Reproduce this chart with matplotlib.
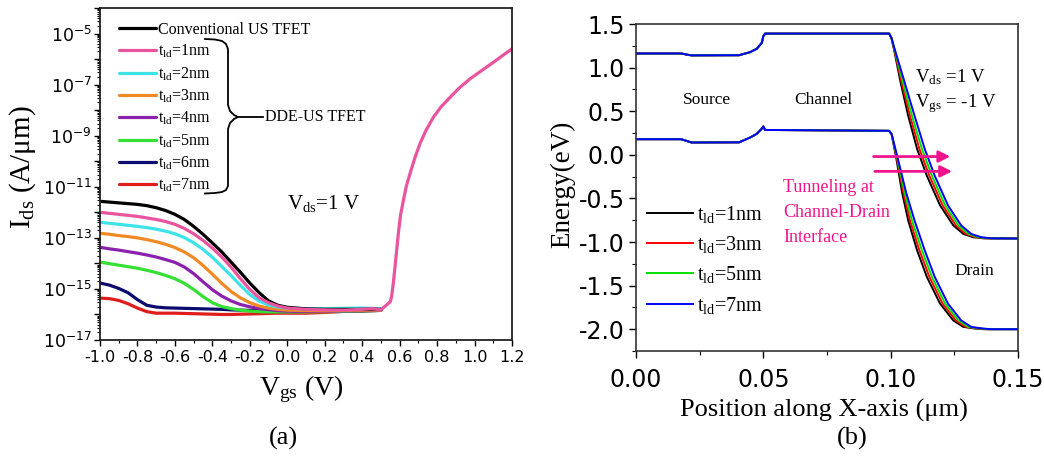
import matplotlib
matplotlib.use('Agg')
import matplotlib.pyplot as plt
import matplotlib.transforms as mtransforms
from matplotlib.lines import Line2D
from matplotlib.ticker import MultipleLocator, LogLocator, FuncFormatter, NullFormatter
import numpy as np

plt.rcParams['axes.unicode_minus'] = False
plt.rcParams['mathtext.fontset'] = 'custom'
plt.rcParams['mathtext.rm'] = 'Liberation Serif'
plt.rcParams['mathtext.it'] = 'Liberation Serif:italic'
plt.rcParams['mathtext.bf'] = 'Liberation Serif:bold'

SERIF = 'Liberation Serif'

# ---- (a) transfer characteristics, log10(Ids) ----
vgs_off = [-1.0, -0.95, -0.9, -0.85, -0.8, -0.75, -0.7, -0.65, -0.6, -0.55, -0.5,
           -0.45, -0.4, -0.35, -0.3, -0.25, -0.2, -0.15, -0.1, -0.05, 0.0,
           0.1, 0.2, 0.3, 0.4, 0.45, 0.5]

log_conv = [-11.57, -11.60, -11.63, -11.66, -11.69, -11.74, -11.82, -11.93, -12.08, -12.28, -12.55,
            -12.86, -13.20, -13.55, -13.95, -14.35, -14.77, -15.15, -15.47, -15.64, -15.72,
            -15.78, -15.80, -15.80, -15.80, -15.79, -15.80]
log_1nm = [-12.00, -12.04, -12.08, -12.12, -12.16, -12.22, -12.28, -12.36, -12.47, -12.63, -12.84,
           -13.10, -13.40, -13.75, -14.15, -14.60, -15.02, -15.35, -15.54, -15.67, -15.75,
           -15.80, -15.82, -15.83, -15.80, -15.77, -15.82]
log_2nm = [-12.39, -12.43, -12.47, -12.51, -12.55, -12.60, -12.66, -12.74, -12.84, -12.99, -13.19,
           -13.45, -13.76, -14.12, -14.48, -14.86, -15.22, -15.48, -15.63, -15.71, -15.75,
           -15.78, -15.77, -15.76, -15.75, -15.76, -15.78]
log_3nm = [-12.82, -12.86, -12.91, -12.95, -13.00, -13.07, -13.15, -13.25, -13.38, -13.55, -13.78,
           -14.08, -14.42, -14.78, -15.10, -15.35, -15.54, -15.67, -15.75, -15.80, -15.83,
           -15.85, -15.86, -15.84, -15.83, -15.83, -15.82]
log_4nm = [-13.37, -13.43, -13.48, -13.54, -13.60, -13.67, -13.75, -13.85, -13.96, -14.14, -14.40,
           -14.72, -15.03, -15.28, -15.47, -15.61, -15.70, -15.77, -15.81, -15.85, -15.87,
           -15.88, -15.88, -15.86, -15.85, -15.84, -15.83]
log_5nm = [-13.95, -14.01, -14.07, -14.13, -14.19, -14.27, -14.36, -14.47, -14.60, -14.78, -15.02,
           -15.30, -15.54, -15.69, -15.77, -15.83, -15.87, -15.89, -15.90, -15.90, -15.90,
           -15.90, -15.89, -15.88, -15.86, -15.85, -15.84]
log_6nm = [-14.77, -14.85, -14.98, -15.15, -15.42, -15.64, -15.71, -15.74, -15.75, -15.76, -15.77,
           -15.78, -15.79, -15.80, -15.82, -15.83, -15.84, -15.85, -15.86, -15.86, -15.87,
           -15.88, -15.88, -15.87, -15.86, -15.85, -15.84]
log_7nm = [-15.36, -15.38, -15.45, -15.58, -15.75, -15.89, -15.95, -15.95, -15.95, -15.96, -15.97,
           -15.98, -15.99, -16.00, -16.00, -15.99, -15.98, -15.97, -15.96, -15.95, -15.95,
           -15.95, -15.92, -15.88, -15.86, -15.85, -15.84]

# on-state branch (all devices coincide, only the t_ld=1nm curve is visible on top)
vgs_on = [0.55, 0.557, 0.566, 0.58, 0.593, 0.605, 0.62, 0.635, 0.655, 0.68, 0.708, 0.74,
          0.78, 0.82, 0.869, 0.92, 0.975, 1.04, 1.1, 1.15, 1.2]
log_on = [-15.5, -15.3, -14.79, -13.8, -12.83, -12.1, -11.53, -11.0, -10.49, -9.9, -9.32, -8.8,
          -8.28, -7.88, -7.5, -7.12, -6.78, -6.44, -6.13, -5.86, -5.6]

labels_a = ['Conventional US TFET'] + [r't$_{\rm ld}$=%dnm' % i for i in range(1, 8)]
colors_a = ['#000000', '#e8559e', '#3ee3ea', '#f08a25', '#8a22ad', '#35e035', '#0b0b6e', '#e01d1d']
series_a = [log_conv, log_1nm, log_2nm, log_3nm, log_4nm, log_5nm, log_6nm, log_7nm]

# ---- (b) band diagram along the channel ----
x_src = [0.0, 0.0177, 0.0198, 0.0218, 0.0405, 0.0448, 0.0474, 0.0494, 0.0500, 0.0507, 0.0994]
ec_src = [1.162, 1.162, 1.150, 1.140, 1.142, 1.177, 1.215, 1.284, 1.36, 1.39, 1.39]
ev_src = [0.179, 0.179, 0.160, 0.141, 0.143, 0.198, 0.240, 0.300, 0.325, 0.285, 0.275]

ec_drain = [1.34, 1.21, 0.83, 0.445, 0.065, -0.24, -0.58, -0.81, -0.907, -0.945, -0.958, -0.96]
x_ec_1nm = [0.1003, 0.1013, 0.1039, 0.1069, 0.1104, 0.1142, 0.1194, 0.1246, 0.1285, 0.1324, 0.1364, 0.15]
x_ec_3nm = [0.1003, 0.1014, 0.1043, 0.1076, 0.1113, 0.1152, 0.1204, 0.1256, 0.1295, 0.1334, 0.1374, 0.15]
x_ec_5nm = [0.1003, 0.1015, 0.1048, 0.1084, 0.1123, 0.1162, 0.1214, 0.1266, 0.1305, 0.1344, 0.1384, 0.15]
x_ec_7nm = [0.1003, 0.1016, 0.1055, 0.1094, 0.1134, 0.1173, 0.1225, 0.1277, 0.1316, 0.1355, 0.1394, 0.15]

ev_drain = [0.235, -0.055, -0.435, -0.755, -1.098, -1.40, -1.707, -1.90, -1.973, -1.99, -2.0, -2.0]
x_ev_1nm = [0.1004, 0.1023, 0.1045, 0.1069, 0.1104, 0.1142, 0.1194, 0.1246, 0.1285, 0.1324, 0.1364, 0.15]
x_ev_3nm = [0.1004, 0.1025, 0.1050, 0.1076, 0.1113, 0.1152, 0.1204, 0.1256, 0.1295, 0.1334, 0.1374, 0.15]
x_ev_5nm = [0.1004, 0.1027, 0.1055, 0.1084, 0.1123, 0.1162, 0.1214, 0.1266, 0.1305, 0.1344, 0.1384, 0.15]
x_ev_7nm = [0.1004, 0.1029, 0.1061, 0.1094, 0.1134, 0.1173, 0.1225, 0.1277, 0.1316, 0.1355, 0.1394, 0.15]

labels_b = [r't$_{\rm ld}$=1nm', r't$_{\rm ld}$=3nm', r't$_{\rm ld}$=5nm', r't$_{\rm ld}$=7nm']
colors_b = ['#000000', '#ff0000', '#00e000', '#0000ff']
x_ec_b = [x_ec_1nm, x_ec_3nm, x_ec_5nm, x_ec_7nm]
x_ev_b = [x_ev_1nm, x_ev_3nm, x_ev_5nm, x_ev_7nm]

MAGENTA = '#f0158c'

fig = plt.figure(figsize=(10.44, 4.61), dpi=100)
# pixel -> figure transform for the hand drawn bits
pix = mtransforms.Affine2D().scale(1 / 1044, -1 / 461).translate(0, 1) + fig.transFigure

ax1 = fig.add_axes([100 / 1044, 1 - 340 / 461, 412 / 1044, 332 / 461])
ax2 = fig.add_axes([636 / 1044, 1 - 351 / 461, 382 / 1044, 327 / 461])

# ---------- panel (a) ----------
handles = {}
for i in [7, 6, 5, 4, 3, 2, 0, 1]:
    if i == 1:
        v = vgs_off + vgs_on
        logi = series_a[i] + log_on
    else:
        v = vgs_off
        logi = series_a[i]
    ln, = ax1.plot(v, 10 ** np.array(logi), color=colors_a[i], lw=2.3,
                   solid_joinstyle='round', solid_capstyle='round')
    handles[i] = ln

ax1.set_yscale('log')
ax1.set_xlim(-1.0, 1.2)
ax1.set_ylim(1e-17, 1e-4)
ax1.xaxis.set_major_locator(MultipleLocator(0.2))
ax1.xaxis.set_minor_locator(MultipleLocator(0.1))
ax1.xaxis.set_major_formatter(FuncFormatter(lambda v, p: '%.1f' % v))
ax1.yaxis.set_major_locator(LogLocator(base=10, numticks=20))
ax1.yaxis.set_minor_locator(LogLocator(base=10, subs=np.arange(2, 10), numticks=20))
ax1.yaxis.set_minor_formatter(NullFormatter())


def odd_decades(v, p):
    e = int(round(np.log10(v)))
    if e % 2 == 0:
        return ''
    return r'$\mathdefault{10^{%d}}$' % e


ax1.yaxis.set_major_formatter(FuncFormatter(odd_decades))
ax1.tick_params(axis='x', which='major', direction='out', length=4, width=1, labelsize=11.5, pad=3)
ax1.tick_params(axis='y', which='major', direction='out', length=4, width=1, labelsize=12.5, pad=2)
ax1.tick_params(which='minor', direction='out', length=2.5, width=0.8)
for s in ax1.spines.values():
    s.set_linewidth(1.3)
    s.set_color('#222222')

ax1.set_xlabel(r'V$_{\rm gs}$ (V)', family=SERIF, fontsize=20)
ax1.xaxis.set_label_coords(0.488, -0.1)
ax1.set_ylabel(r'I$_{\rm ds}$ (A/μm)', family=SERIF, fontsize=21)
ax1.yaxis.set_label_coords(-0.15, 0.52)

ax1.legend([handles[i] for i in range(8)], labels_a, loc='upper left',
           bbox_to_anchor=(0.045, 0.958), frameon=False,
           prop={'family': SERIF, 'size': 11.5}, handlelength=2.35,
           handletextpad=0.15, labelspacing=0.31, borderpad=0, borderaxespad=0)

ax1.text(0.0, 2.2e-12, r'V$_{\rm ds}$=1 V', family=SERIF, fontsize=15, va='center', ha='left')

# brace grouping the DDE-US curves
bx = [205, 215, 222, 226, 228, 228, 230, 234, 238, 234, 230, 228, 228, 226, 222, 215, 205]
by = [39, 39.5, 41, 44, 49, 105, 111, 115, 117, 119, 123, 129, 186, 190, 192, 193, 193.5]
fig.add_artist(Line2D(bx, by, transform=pix, color='black', lw=1.3))
fig.add_artist(Line2D([238, 263], [117, 117], transform=pix, color='black', lw=1.3))
fig.text(265, 117, 'DDE-US TFET', transform=pix, family=SERIF, fontsize=11.5, va='center', ha='left')

# ---------- panel (b) ----------
for i in range(4):
    ax2.plot(x_src + x_ec_b[i], ec_src + ec_drain, color=colors_b[i], lw=1.4, label=labels_b[i])
    ax2.plot(x_src + x_ev_b[i], ev_src + ev_drain, color=colors_b[i], lw=1.4)

ax2.set_xlim(0, 0.15)
ax2.set_ylim(-2.25, 1.5)
ax2.xaxis.set_major_locator(MultipleLocator(0.05))
ax2.xaxis.set_minor_locator(MultipleLocator(0.025))
ax2.xaxis.set_major_formatter(FuncFormatter(lambda v, p: '%.2f' % v))
ax2.yaxis.set_major_locator(MultipleLocator(0.5))
ax2.yaxis.set_minor_locator(MultipleLocator(0.25))
ax2.yaxis.set_major_formatter(FuncFormatter(lambda v, p: '%.1f' % v))
ax2.tick_params(which='major', direction='out', length=5, width=1, labelsize=17, pad=3)
ax2.tick_params(axis='x', which='major', pad=7)
ax2.tick_params(which='minor', direction='out', length=3, width=0.8)
for s in ax2.spines.values():
    s.set_linewidth(1.2)
    s.set_color('#333333')

ax2.set_xlabel('Position along X-axis (μm)', family=SERIF, fontsize=19)
ax2.xaxis.set_label_coords(0.492, -0.148)
ax2.set_ylabel('Energy(eV)', family=SERIF, fontsize=19.5)
ax2.yaxis.set_label_coords(-0.16, 0.51)

ax2.legend(loc='upper left', bbox_to_anchor=(0.028, 0.45), frameon=False,
           prop={'family': SERIF, 'size': 14.5}, handlelength=2.3, handletextpad=0.2,
           labelspacing=0.46, borderpad=0, borderaxespad=0)

ax2.text(0.0279, 0.625, 'Source', family=SERIF, fontsize=12.5, ha='center', va='center')
ax2.text(0.0734, 0.625, 'Channel', family=SERIF, fontsize=12.5, ha='center', va='center')
ax2.text(0.1327, -1.33, 'Drain', family=SERIF, fontsize=12.5, ha='center', va='center')
ax2.text(0.1095, 0.887, r'V$_{\rm ds}$ =1 V', family=SERIF, fontsize=13.5, ha='left', va='center')
ax2.text(0.1095, 0.59, r'V$_{\rm gs}$ = -1 V', family=SERIF, fontsize=13.5, ha='left', va='center')
ax2.text(0.0577, -0.66, 'Tunneling at\nChannel-Drain\nInterface', family=SERIF, fontsize=13,
         color=MAGENTA, ha='left', va='center', linespacing=1.6)
for y0, xa, xb in [(-0.02, 0.0922, 0.1245), (-0.19, 0.0927, 0.1252)]:
    ax2.annotate('', xy=(xb, y0), xytext=(xa, y0),
                 arrowprops=dict(arrowstyle='-|>', color=MAGENTA, lw=2, mutation_scale=17))

fig.text(283, 438, '(a)', transform=pix, family=SERIF, fontsize=19, ha='center', va='center')
fig.text(852, 438, '(b)', transform=pix, family=SERIF, fontsize=19, ha='center', va='center')

fig.savefig('out.png', dpi=100)
